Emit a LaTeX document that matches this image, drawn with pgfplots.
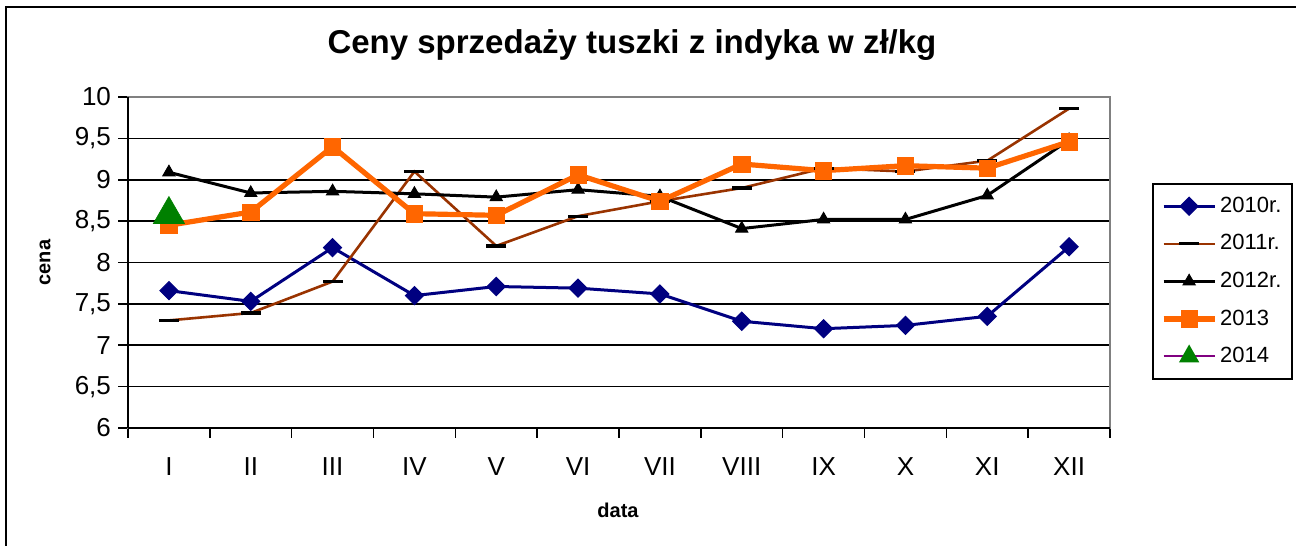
\documentclass[border=0pt]{standalone}
\usepackage{pgfplots}
\pgfplotsset{compat=1.18}
\usepackage{fontspec}
\setmainfont{Liberation Sans}
\definecolor{c2010}{RGB}{0,0,128}
\definecolor{c2011}{RGB}{153,51,0}
\definecolor{c2013}{RGB}{255,102,0}
\definecolor{c2014}{RGB}{0,128,0}
\definecolor{c2014l}{RGB}{128,0,128}
\begin{document}
\begin{tikzpicture}
\useasboundingbox (0,0) rectangle (648pt,273pt);
\draw[line width=1pt] (3pt,-2pt) -- (3pt,269.5pt) -- (650pt,269.5pt);
\node[font=\bfseries\fontsize{16.5}{19}\selectfont] at (316pt,250.5pt) {Ceny sprzedaży tuszki z indyka w zł/kg};
\begin{axis}[
  at={(64pt,59pt)}, anchor=south west,
  scale only axis, width=491pt, height=165.5pt,
  xmin=-0.5, xmax=11.5, ymin=6, ymax=10,
  xtick={0,...,11},
  xticklabels={I,II,III,IV,V,VI,VII,VIII,IX,X,XI,XII},
  minor xtick={-0.5,0.5,...,11.5},
  ytick={6,6.5,7,7.5,8,8.5,9,9.5,10},
  /pgf/number format/.cd, use comma, fixed, precision=1, assume math mode=true,
  /pgfplots/.cd,
  xtick pos=lower, ytick pos=left,
  ymajorgrids,
  grid style={black, line width=0.75pt},
  axis line style={draw=gray, line width=0.9pt},
  tick align=outside,
  major tick length=5pt, minor tick length=5pt,
  tick style={black, line width=0.75pt},
  major x tick style={draw=none},
  tick label style={font=\fontsize{13}{15}\selectfont},
  xticklabel style={yshift=-6.5pt},
  xlabel={data}, ylabel={cena},
  label style={font=\bfseries\fontsize{10}{12}\selectfont},
  xlabel style={at={(axis description cs:0.499,-0.248)}, anchor=center},
  ylabel style={at={(axis description cs:-0.0845,0.5)}, anchor=center},
  legend cell align=left,
  legend style={at={(1.0428,0.740)}, anchor=north west, draw=black, line width=1pt,
    font=\fontsize{11}{13}\selectfont, inner xsep=4pt, inner ysep=4.5pt, row sep=5.6pt,
    nodes={inner xsep=1.5pt, inner ysep=2pt}},
  legend image code/.code={\draw[mark repeat=2,mark phase=2,#1] plot coordinates {(0pt,0pt)(12.75pt,0pt)(25.5pt,0pt)};},
  clip=false,
]
\addplot[c2010, line width=1.5pt, mark=square*, mark size=3.2pt, mark options={rotate=45, fill=c2010, draw=c2010, line width=0.5pt}]
  coordinates {(0,7.66)(1,7.53)(2,8.18)(3,7.60)(4,7.71)(5,7.69)(6,7.62)(7,7.29)(8,7.20)(9,7.24)(10,7.35)(11,8.19)};
\addlegendentry{2010r.}
\addplot[c2011, line width=1.3pt, mark=-, mark size=5pt, mark options={black, line width=1.6pt}]
  coordinates {(0,7.30)(1,7.39)(2,7.77)(3,9.10)(4,8.20)(5,8.56)(6,8.74)(7,8.90)(8,9.14)(9,9.10)(10,9.23)(11,9.86)};
\addlegendentry{2011r.}
\addplot[black, line width=1.5pt, mark=triangle*, mark size=3.5pt, mark options={fill=black, line width=0.5pt}]
  coordinates {(0,9.09)(1,8.84)(2,8.86)(3,8.83)(4,8.79)(5,8.88)(6,8.80)(7,8.41)(8,8.52)(9,8.52)(10,8.81)(11,9.48)};
\addlegendentry{2012r.}
\addplot[c2013, line width=2.6pt, mark=square*, mark size=4.1pt, mark options={fill=c2013, draw=c2013, line width=0.3pt}]
  coordinates {(0,8.45)(1,8.61)(2,9.40)(3,8.59)(4,8.57)(5,9.06)(6,8.74)(7,9.19)(8,9.11)(9,9.17)(10,9.14)(11,9.46)};
\addlegendentry{2013}
\addplot[c2014l, line width=1pt, mark=triangle*, mark size=9pt, mark options={fill=c2014, draw=c2014, line width=0.3pt},
  legend image code/.code={\draw[c2014l, line width=1pt] (0pt,0pt) -- (25.5pt,0pt);
    \fill[c2014] (12.75pt,5pt) -- (17pt,-2.5pt) -- (8.5pt,-2.5pt) -- cycle;}]
  coordinates {(0,8.58)};
\addlegendentry{2014}
\draw[black, line width=0.9pt] (rel axis cs:0,0) -- (rel axis cs:0,1);
\draw[black, line width=0.9pt] (rel axis cs:0,0) -- (rel axis cs:1,0);
\end{axis}
\end{tikzpicture}
\end{document}
